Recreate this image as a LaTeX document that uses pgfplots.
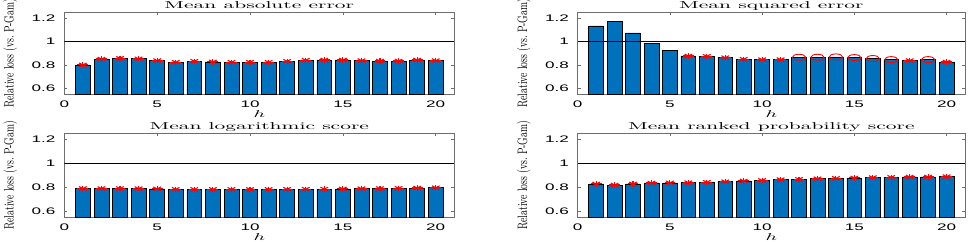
\documentclass[border=0pt]{standalone}
\usepackage{fontspec}
\usepackage{pgfplots}
\usepackage{graphicx}
\pgfplotsset{compat=1.18}
\newfontfamily\tickfont{Liberation Sans}
\definecolor{matblue}{RGB}{0,114,189}
\definecolor{axgray}{RGB}{110,110,110}

\pgfplotsset{
  every axis title shift=0pt,
  every axis title/.style={at={(axis description cs:0.5,1)}, anchor=base, yshift=3.7pt, inner sep=0pt},
  every axis x label/.style={at={(axis description cs:0.5,0)}, anchor=base, yshift=-23pt, inner sep=0pt},
  every axis y label/.style={at={(axis description cs:0,0.5)}, xshift=-54pt, rotate=90, anchor=center, inner sep=0pt},
  panel/.style={
    scale only axis,
    anchor=south west,
    xmin=0, xmax=21, ymin=0.55, ymax=1.25,
    xtick={0,5,10,15,20},
    ytick={0.6,0.8,1,1.2},
    tick align=inside,
    major tick length=3pt,
    axis line style={axgray, line width=0.5pt},
    every tick/.style={axgray, line width=0.5pt},
    /pgf/number format/assume math mode=true,
    xticklabel={\fontsize{9.5}{10}\selectfont\tickfont\scalebox{1.8}[1]{\pgfmathprintnumber{\tick}}},
    yticklabel={\fontsize{9.5}{10}\selectfont\tickfont\scalebox{1.8}[1]{\pgfmathprintnumber{\tick}}},
    xticklabel style={anchor=base, inner sep=0pt, yshift=-13.4pt},
    yticklabel style={anchor=east, inner sep=0pt, xshift=-8.6pt},
    xlabel={\scalebox{2}[1]{$h$}},
    ylabel={\fontsize{9.4}{10}\selectfont\scalebox{1}[1.45]{Relative loss (vs.\ P-Gam)}},
  },
  bars/.style={ybar, bar width=0.8, bar shift=0pt, fill=matblue, draw=black, line width=0.6pt},
  oneline/.style={black, line width=1.1pt, forget plot},
  astp/.style={only marks, mark=+, red, mark size=2.7pt, mark options={xscale=2, line width=1.1pt}, forget plot},
  astx/.style={only marks, mark=x, red, mark size=2.7pt, mark options={xscale=2, line width=1.1pt}, forget plot},
  circ/.style={only marks, mark=o, red, mark size=3pt, mark options={xscale=2.2, line width=0.9pt}},
}

\pgfplotstableread{
h v
1 0.800
2 0.850
3 0.856
4 0.852
5 0.837
6 0.823
7 0.831
8 0.826
9 0.823
10 0.823
11 0.823
12 0.831
13 0.840
14 0.842
15 0.842
16 0.837
17 0.833
18 0.833
19 0.842
20 0.837
}\mae

\pgfplotstableread{
h v
1 1.132
2 1.172
3 1.073
4 0.986
5 0.924
6 0.876
7 0.873
8 0.862
9 0.848
10 0.845
11 0.845
12 0.865
13 0.865
14 0.868
15 0.862
16 0.854
17 0.845
18 0.837
19 0.845
20 0.825
}\mse

\pgfplotstableread{
h v
6 0.876
7 0.873
8 0.862
9 0.848
10 0.845
11 0.845
18 0.837
20 0.825
}\mseast

\pgfplotstableread{
h v
12 0.865
13 0.865
14 0.868
15 0.862
16 0.854
17 0.845
19 0.845
}\msecirc

\pgfplotstableread{
h v
1 0.790
2 0.790
3 0.790
4 0.789
5 0.787
6 0.783
7 0.783
8 0.783
9 0.783
10 0.782
11 0.783
12 0.784
13 0.784
14 0.785
15 0.787
16 0.789
17 0.790
18 0.792
19 0.794
20 0.797
}\logs

\pgfplotstableread{
h v
1 0.828
2 0.819
3 0.828
4 0.836
5 0.837
6 0.839
7 0.842
8 0.847
9 0.853
10 0.858
11 0.864
12 0.867
13 0.872
14 0.875
15 0.878
16 0.881
17 0.883
18 0.886
19 0.886
20 0.889
}\rps

\begin{document}
\begin{tikzpicture}[x=1pt,y=1pt]
\useasboundingbox (0,0) rectangle (969,241);

\begin{axis}[panel, at={(64.3pt,146.7pt)}, width=390pt, height=82.3pt,
  title={\scalebox{2.15}[1]{Mean absolute error}}]
\addplot[bars] table[x=h,y=v] {\mae};
\addplot[oneline] coordinates {(0,1) (21,1)};
\addplot[astp] table[x=h,y=v] {\mae};
\addplot[astx] table[x=h,y=v] {\mae};
\end{axis}

\begin{axis}[panel, at={(577.7pt,146.7pt)}, width=387.3pt, height=82.3pt,
  title={\scalebox{2.15}[1]{Mean squared error}}]
\addplot[bars] table[x=h,y=v] {\mse};
\addplot[oneline] coordinates {(0,1) (21,1)};
\addplot[astp] table[x=h,y=v] {\mseast};
\addplot[astx] table[x=h,y=v] {\mseast};
\addplot[circ] table[x=h,y=v] {\msecirc};
\end{axis}

\begin{axis}[panel, at={(64.3pt,23.7pt)}, width=390pt, height=84pt,
  title={\scalebox{2.15}[1]{Mean logarithmic score}}]
\addplot[bars] table[x=h,y=v] {\logs};
\addplot[oneline] coordinates {(0,1) (21,1)};
\addplot[astp] table[x=h,y=v] {\logs};
\addplot[astx] table[x=h,y=v] {\logs};
\end{axis}

\begin{axis}[panel, at={(577.7pt,23.7pt)}, width=387.3pt, height=84pt,
  title={\scalebox{2.15}[1]{Mean ranked probability score}}]
\addplot[bars] table[x=h,y=v] {\rps};
\addplot[oneline] coordinates {(0,1) (21,1)};
\addplot[astp] table[x=h,y=v] {\rps};
\addplot[astx] table[x=h,y=v] {\rps};
\end{axis}
\end{tikzpicture}
\end{document}
